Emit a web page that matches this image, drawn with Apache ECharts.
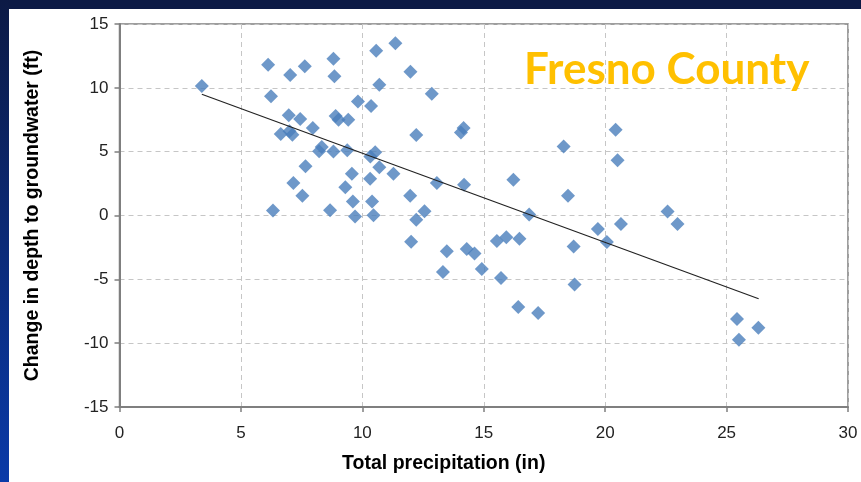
<!DOCTYPE html>
<html>
<head>
<meta charset="utf-8">
<script src="https://cdn.jsdelivr.net/npm/echarts@6/dist/echarts.min.js"></script>
<style>
html,body{margin:0;padding:0;background:#fff;}
#chart{width:861px;height:482px;}
</style>
</head>
<body>
<div id="chart"></div>
<script>
// Total precipitation (in)
const precipX = [3.39,6.12,7.03,7.63,8.81,8.85,6.24,9.82,10.36,6.97,7.44,8.9,9.02,9.42,7.96,6.64,7.0,7.12,8.33,8.22,8.81,9.38,10.53,10.33,10.7,7.66,9.57,10.32,11.28,7.16,9.3,7.53,9.61,10.4,6.32,8.67,9.7,10.46,10.57,11.36,11.98,10.7,12.86,12.22,14.06,14.17,18.29,13.07,14.19,16.22,18.47,11.97,12.56,12.22,16.87,12.01,13.48,13.32,14.3,14.62,14.92,15.54,15.93,16.47,15.71,16.42,17.24,18.7,18.74,19.7,20.07,20.65,22.57,22.98,25.43,25.51,26.31,20.43,20.51];
// Change in depth to groundwater (ft)
const depthY = [10.15,11.8,11.0,11.7,12.28,10.9,9.35,8.92,8.57,7.85,7.55,7.8,7.5,7.5,6.85,6.38,6.6,6.33,5.36,5.03,5.02,5.12,4.96,4.63,3.77,3.85,3.27,2.88,3.27,2.54,2.22,1.55,1.1,1.1,0.4,0.42,-0.07,0.02,12.9,13.5,11.26,10.24,9.54,6.3,6.5,6.85,5.41,2.54,2.41,2.8,1.55,1.55,0.34,-0.33,0.08,-2.05,-2.81,-4.43,-2.63,-2.98,-4.2,-2.0,-1.71,-1.82,-4.9,-7.17,-7.64,-2.42,-5.4,-1.06,-2.08,-0.67,0.32,-0.67,-8.1,-9.73,-8.79,6.72,4.32];
// Trend line end points
const trendX = [3.39, 26.32];
const trendY = [9.5, -6.52];
const xTicks = [0,5,10,15,20,25,30];
const yTicks = [-15,-10,-5,0,5,10,15];

const scatterData = precipX.map((x,i)=>[x, depthY[i]]);
const trendData = trendX.map((x,i)=>[x, trendY[i]]);

const chart = echarts.init(document.getElementById('chart'));
const fam = '"Liberation Sans", Arial, sans-serif';
chart.setOption({
  backgroundColor: '#ffffff',
  animation: false,
  graphic: [
    {type:'rect', shape:{x:0,y:0,width:861,height:9}, style:{fill:'#0c1a45'}, z:100},
    {type:'rect', shape:{x:0,y:0,width:9,height:482}, style:{fill:new echarts.graphic.LinearGradient(0,0,0,1,[{offset:0,color:'#0c1a45'},{offset:1,color:'#0a3aa8'}])}, z:100},
    {type:'text', left:524, top:48, style:{text:'Fresno County', fill:'#FFC000', font:'bold 44px Lato, "Open Sans", sans-serif'}, z:50}
  ],
  grid: {left:119.5, right:13, top:24, bottom:75, show:true, borderColor:'#7f7f7f', borderWidth:1.5, backgroundColor:'transparent'},
  xAxis: {
    type:'value', min:xTicks[0], max:xTicks[xTicks.length-1], interval:5,
    name:'Total precipitation (in)', nameLocation:'middle', nameGap:47,
    nameTextStyle:{fontFamily:fam, fontWeight:'bold', fontSize:19.5, color:'#000', padding:[0,80,0,0]},
    axisLine:{show:true, onZero:false, lineStyle:{color:'#7f7f7f', width:2}},
    axisTick:{show:true, length:5, lineStyle:{color:'#7f7f7f', width:1.5}},
    axisLabel:{fontFamily:fam, fontSize:17, color:'#222', margin:18},
    splitLine:{show:true, lineStyle:{color:'#c6c6c6', type:[5,4], width:1}}
  },
  yAxis: {
    type:'value', min:yTicks[0], max:yTicks[yTicks.length-1], interval:5,
    name:'Change in depth to groundwater (ft)', nameLocation:'middle', nameGap:77,
    nameTextStyle:{fontFamily:fam, fontWeight:'bold', fontSize:19.5, color:'#000'},
    axisLine:{show:true, onZero:false, lineStyle:{color:'#7f7f7f', width:2}},
    axisTick:{show:true, length:5, lineStyle:{color:'#7f7f7f', width:1.5}},
    axisLabel:{fontFamily:fam, fontSize:17, color:'#222', margin:11},
    splitLine:{show:true, lineStyle:{color:'#c6c6c6', type:[5,4], width:1}}
  },
  series: [
    {type:'scatter', data:scatterData, symbol:'diamond', symbolSize:14, itemStyle:{color:'#4a7ebb'}, z:3},
    {type:'line', data:trendData, symbol:'none', lineStyle:{color:'#222', width:1.2}, z:4}
  ]
});
</script>
</body>
</html>
